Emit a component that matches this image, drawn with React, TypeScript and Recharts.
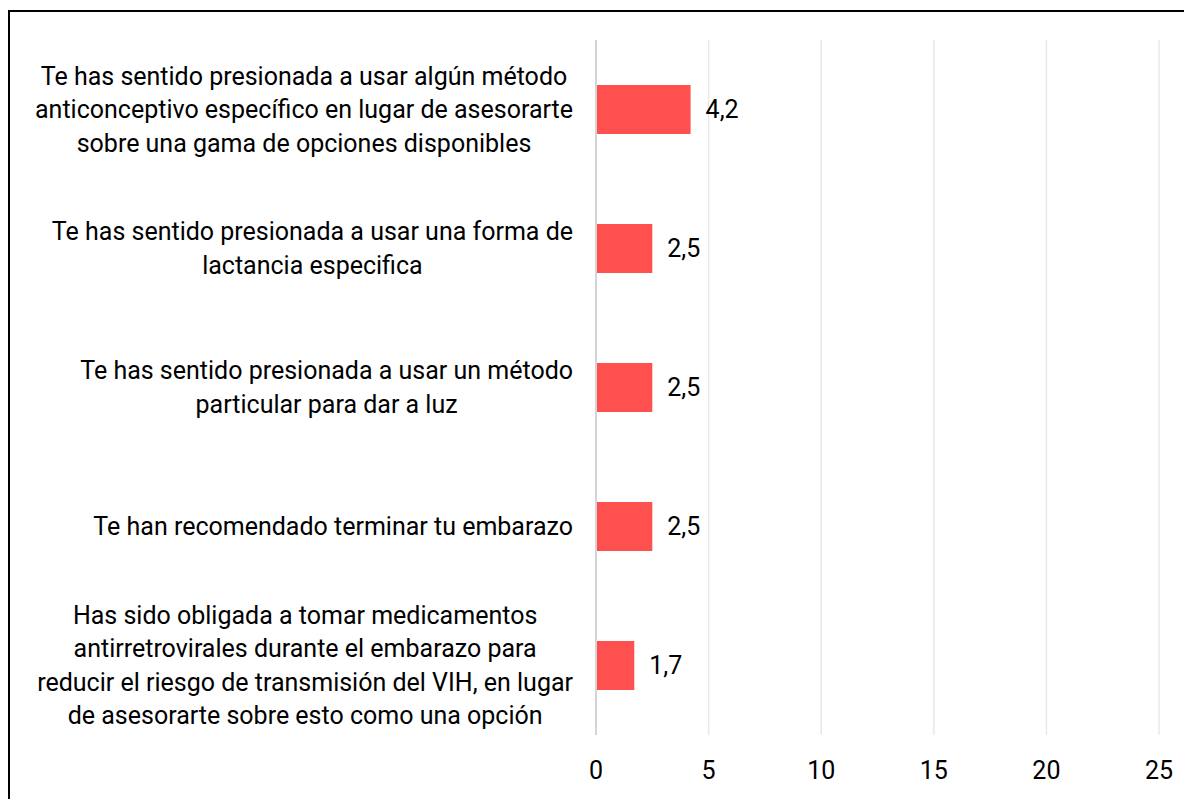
import React from 'react'
import { Bar, BarChart, CartesianGrid, LabelList, XAxis, YAxis } from 'recharts'

const categories = [
  'Te has sentido presionada a usar algún método\nanticonceptivo específico en lugar de asesorarte\nsobre una gama de opciones disponibles',
  'Te has sentido presionada a usar una forma de\nlactancia especifica',
  'Te has sentido presionada a usar un método\nparticular para dar a luz',
  'Te han recomendado terminar tu embarazo',
  'Has sido obligada a tomar medicamentos\nantirretrovirales durante el embarazo para\nreducir el riesgo de transmisión del VIH, en lugar\nde asesorarte sobre esto como una opción',
]
const values = [4.2, 2.5, 2.5, 2.5, 1.7]
const xTicks = [0, 5, 10, 15, 20, 25]

const data = categories.map((name, i) => ({ name, value: values[i] }))

const FONT = 'Roboto, "Noto Sans", sans-serif'
const FONT_SIZE = 25
const LINE_H = 33.5

let ctx: CanvasRenderingContext2D | null = null
function measure(text: string) {
  if (!ctx) ctx = document.createElement('canvas').getContext('2d')
  if (!ctx) return text.length * 12
  ctx.font = `${FONT_SIZE}px ${FONT}`
  return ctx.measureText(text).width
}

// wrapped labels: each line centred, block pushed against the axis
function CategoryTick({ x, y, payload }: any) {
  const lines: string[] = String(payload.value).split('\n')
  const maxW = Math.max(...lines.map(measure))
  const cx = x - 23 - maxW / 2
  const startY = y - ((lines.length - 1) * LINE_H) / 2
  return (
    <text x={cx} y={startY} textAnchor="middle" fontSize={FONT_SIZE} fontFamily={FONT} fill="#000">
      {lines.map((l, i) => (
        <tspan key={i} x={cx} y={startY + i * LINE_H} dominantBaseline="central">
          {l}
        </tspan>
      ))}
    </text>
  )
}

function ValueTick({ x, y, payload }: any) {
  return (
    <text x={x} y={y + 35} textAnchor="middle" dominantBaseline="central" fontSize={FONT_SIZE} fontFamily={FONT} fill="#000">
      {payload.value}
    </text>
  )
}

export default function App() {
  return (
    <div style={{ position: 'relative', width: 1184, height: 791, overflow: 'hidden' }}>
      <div
        style={{
          position: 'absolute',
          left: 0,
          top: 2,
          width: 1184,
          height: 789,
          borderLeft: '2px solid #000',
          borderTop: '2px solid #000',
          boxSizing: 'border-box',
        }}
      />
      <div style={{ position: 'absolute', left: 0, top: 0 }}>
        <BarChart
          width={1184}
          height={791}
          data={data}
          layout="vertical"
          margin={{ top: 32, right: 33, bottom: 34, left: 0 }}
          barCategoryGap={0}
        >
          <CartesianGrid horizontal={false} stroke="#e8e8e8" strokeWidth={1.5} />
          <XAxis
            type="number"
            domain={[0, 25]}
            ticks={xTicks}
            axisLine={false}
            tickLine={false}
            tickSize={0}
            tickMargin={0}
            height={30}
            tick={<ValueTick />}
          />
          <YAxis
            type="category"
            dataKey="name"
            width={588}
            axisLine={{ stroke: '#d4d4d4', strokeWidth: 2 }}
            tickLine={false}
            tickSize={0}
            tickMargin={0}
            interval={0}
            tick={<CategoryTick />}
          />
          <Bar dataKey="value" fill="#ff5050" barSize={49} isAnimationActive={false}>
            <LabelList
              dataKey="value"
              position="right"
              offset={15}
              formatter={(v: any) => String(v).replace('.', ',')}
              style={{ fontSize: FONT_SIZE, fontFamily: FONT, fill: '#000' }}
            />
          </Bar>
        </BarChart>
      </div>
    </div>
  )
}
